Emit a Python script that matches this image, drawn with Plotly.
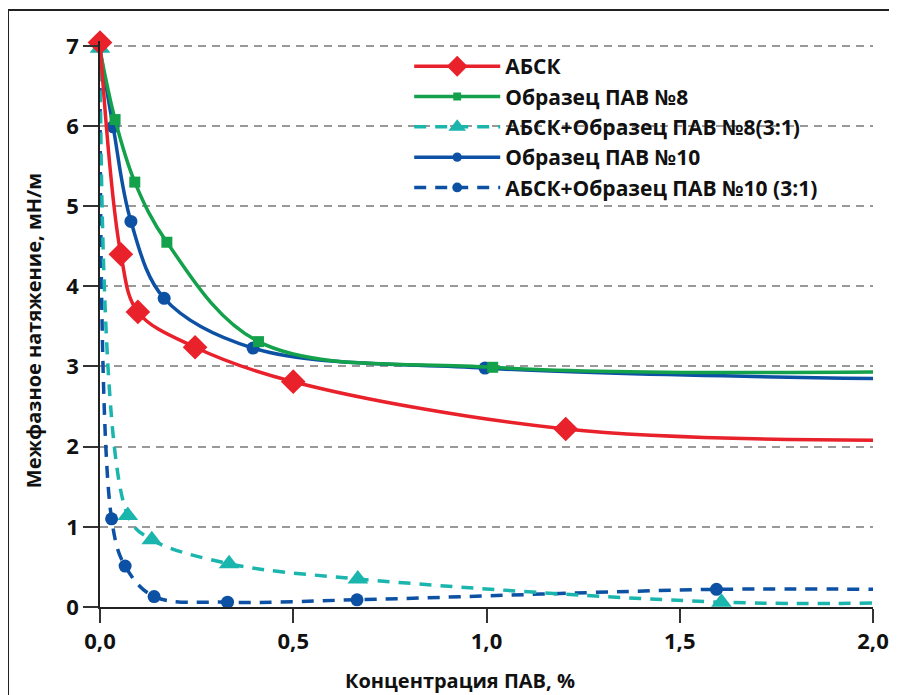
import plotly.graph_objects as go

# ---- data ----
absk_x = [0.0, 0.054, 0.098, 0.246, 0.5, 1.205, 2.0]
absk_y = [7.04, 4.40, 3.68, 3.24, 2.81, 2.22, 2.08]

pav8_x = [0.0, 0.039, 0.09, 0.173, 0.41, 1.016, 2.0]
pav8_y = [6.95, 6.08, 5.30, 4.55, 3.31, 2.99, 2.93]

mix8_x = [0.0, 0.072, 0.134, 0.334, 0.667, 1.608, 2.0]
mix8_y = [6.97, 1.14, 0.84, 0.54, 0.35, 0.06, 0.05]

pav10_x = [0.0, 0.034, 0.08, 0.166, 0.396, 0.996, 2.0]
pav10_y = [6.95, 5.99, 4.81, 3.85, 3.23, 2.98, 2.85]

mix10_x = [0.0, 0.030, 0.065, 0.140, 0.330, 0.665, 1.595, 2.0]
mix10_y = [7.0, 1.10, 0.51, 0.13, 0.06, 0.09, 0.22, 0.22]

names = ["АБСК", "Образец ПАВ №8", "АБСК+Образец ПАВ №8(3:1)",
         "Образец ПАВ №10", "АБСК+Образец ПАВ №10 (3:1)"]

x_ticks = [0.0, 0.5, 1.0, 1.5, 2.0]
y_ticks = [0, 1, 2, 3, 4, 5, 6, 7]

x_title = "Концентрация ПАВ, %"
y_title = "Межфазное натяжение, мН/м"

FONT = "Open Sans"

# (x, y, name, color, dash, symbol, size, legend rank, marker at x=0)
series = [
    (mix10_x, mix10_y, names[4], "#0c51a3", "12px,9px", "circle", 13, 5, False),
    (mix8_x, mix8_y, names[2], "#1ab5ad", "12px,9px", "triangle-up", 18, 3, True),
    (pav10_x, pav10_y, names[3], "#0c51a3", "solid", "circle", 13, 4, False),
    (pav8_x, pav8_y, names[1], "#13a14b", "solid", "square", 11, 2, False),
    (absk_x, absk_y, names[0], "#e8212b", "solid", "diamond", 19, 1, True),
]

fig = go.Figure()
for xs, ys, nm, col, dash, sym, ms, rank, first in series:
    sizes = [ms] * (len(xs) - 1) + [0]
    if not first:
        sizes[0] = 0
    fig.add_trace(go.Scatter(
        x=xs, y=ys, name=nm, mode="lines+markers", legendrank=rank,
        line=dict(color=col, width=3.5, dash=dash, shape="spline", smoothing=1.0),
        marker=dict(symbol=sym, size=sizes, color=col, opacity=1,
                    line=dict(width=0)),
        cliponaxis=False,
    ))

fig.update_layout(
    width=889, height=687,
    margin=dict(l=92, r=24, t=33, b=88),
    paper_bgcolor="white", plot_bgcolor="white",
    separators=", ",
    font=dict(family=FONT, size=21, color="#111111", weight="bold"),
    showlegend=True,
    legend=dict(x=0.400, y=0.991, xanchor="left", yanchor="top",
                bgcolor="rgba(0,0,0,0)", itemwidth=86,
                font=dict(family=FONT, size=21, color="#111111", weight="bold"),
                tracegroupgap=0, traceorder="normal"),
    xaxis=dict(range=[0, 2.0], tickvals=x_ticks, tickformat=".1f",
               automargin=False,
               showgrid=False, zeroline=False, showline=True,
               linecolor="#222222", linewidth=1.5,
               ticks="outside", ticklen=14, tickcolor="#333333", tickwidth=1.5,
               tickfont=dict(family=FONT, size=22, weight="bold")),
    yaxis=dict(range=[0, 7.06], tickvals=y_ticks, automargin=False,
               showgrid=True, gridcolor="#999999", gridwidth=2, griddash="8px,6px",
               zeroline=False, showline=True,
               linecolor="#222222", linewidth=1.5,
               ticks="outside", ticklen=15, tickcolor="#333333", tickwidth=1.5,
               tickfont=dict(family=FONT, size=22, weight="bold")),
    annotations=[
        dict(text=x_title, xref="paper", yref="paper", x=0.466, y=-0.129,
             xanchor="center", yanchor="middle", showarrow=False,
             font=dict(family=FONT, size=20, weight="bold", color="#111111")),
        dict(text=y_title, xref="paper", yref="paper", x=-0.0867, y=0.489,
             xanchor="center", yanchor="middle", showarrow=False, textangle=-90,
             font=dict(family=FONT, size=20, weight="bold", color="#111111")),
    ],
    shapes=[dict(type="rect", xref="paper", yref="paper",
                 x0=-0.119, x1=1.2, y0=-0.3, y1=1.0548,
                 line=dict(color="#222222", width=2), layer="below")],
)

fig.write_html("out.html")
